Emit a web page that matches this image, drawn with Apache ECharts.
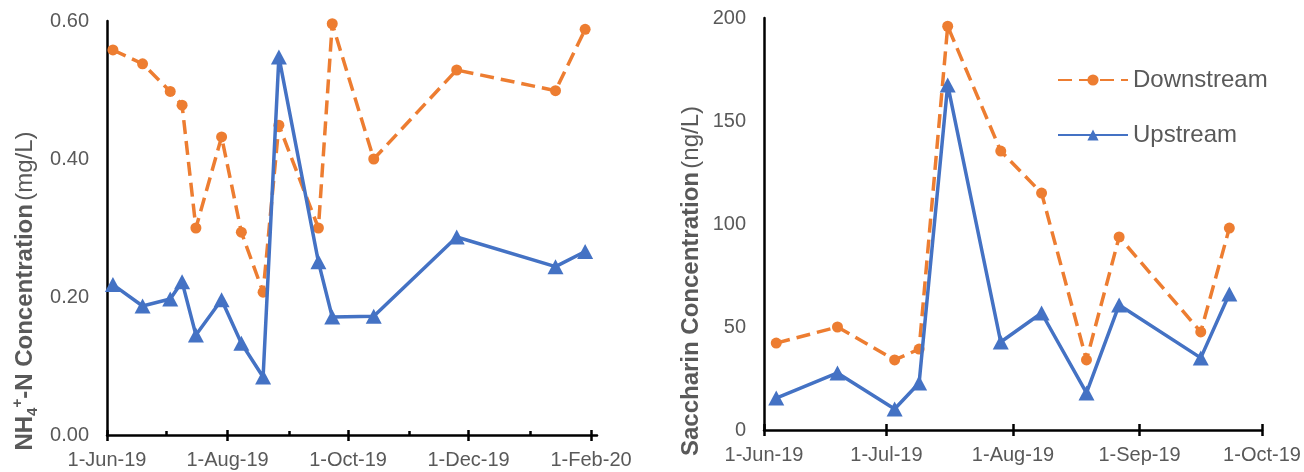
<!DOCTYPE html>
<html>
<head>
<meta charset="utf-8">
<script src="https://cdn.jsdelivr.net/npm/echarts@6/dist/echarts.min.js"></script>
<style>
html,body{margin:0;padding:0;background:#fff;}
#c{width:1304px;height:472px;}
</style>
</head>
<body>
<div id="c"></div>
<script>
// ---------- data ----------
const nh4Dates = ['2019-06-04','2019-06-19','2019-07-03','2019-07-09','2019-07-16','2019-07-29','2019-08-08','2019-08-19','2019-08-27','2019-09-16','2019-09-23','2019-10-14','2019-11-25','2020-01-14','2020-01-29'];
const nh4Down = [0.558,0.538,0.498,0.478,0.300,0.432,0.294,0.207,0.449,0.300,0.596,0.400,0.529,0.499,0.588];
const nh4Up   = [0.218,0.187,0.197,0.222,0.145,0.196,0.133,0.084,0.548,0.251,0.171,0.172,0.287,0.244,0.266];

const sacDates = ['2019-06-04','2019-06-19','2019-07-03','2019-07-09','2019-07-16','2019-07-29','2019-08-08','2019-08-19','2019-08-27','2019-09-16','2019-09-23'];
const sacDown = [42.2,50.0,34.0,39.3,196.0,135.4,115.0,34.0,93.7,47.6,98.0];
const sacUp   = [15.5,27.7,10.2,22.8,167.5,42.7,56.8,18.0,60.7,35.0,66.0];

const leftTickDates  = ['2019-06-01','2019-08-01','2019-10-01','2019-12-01','2020-02-01'];
const leftTickLabels = ['1-Jun-19','1-Aug-19','1-Oct-19','1-Dec-19','1-Feb-20'];
const leftMinorDates = ['2019-07-01','2019-09-01','2019-11-01','2020-01-01'];
const rightTickDates  = ['2019-06-01','2019-07-01','2019-08-01','2019-09-01','2019-10-01'];
const rightTickLabels = ['1-Jun-19','1-Jul-19','1-Aug-19','1-Sep-19','1-Oct-19'];
const leftRange  = ['2019-06-01','2020-02-04'];
const rightRange = ['2019-06-01','2019-10-01'];

// ---------- helpers ----------
function ts(s){const p=s.split('-').map(Number);return Date.UTC(p[0],p[1]-1,p[2]);}
function pairs(d,v){return d.map((x,i)=>[ts(x),v[i]]);}
function labelMap(dates,labels){const m={};dates.forEach((d,i)=>{m[ts(d)]=labels[i];});return v=>m[v]!==undefined?m[v]:'';}

const ORANGE='#ED7D31', BLUE='#4472C4', TXT='#595959';
const FONT='"Liberation Sans", Arial, sans-serif';
const LEFT_RECT  = {left:107,top:21,width:490,height:414};
const RIGHT_RECT = {left:764,top:18,width:498,height:412};

function mainX(grid,range,tickDates,tickLabels){
  return {type:'value',gridIndex:grid,position:'bottom',min:ts(range[0]),max:ts(range[1]),
    splitLine:{show:false},
    axisLine:{show:true,lineStyle:{color:'#000',width:2.5}},
    axisTick:{show:true,customValues:tickDates.map(ts),length:6,inside:false,lineStyle:{color:'#000',width:2.5}},
    axisLabel:{customValues:tickDates.map(ts),formatter:labelMap(tickDates,tickLabels),color:TXT,fontSize:20,fontFamily:FONT,margin:15}};
}
function overlayX(grid,range,tickDates,len){
  return {type:'value',gridIndex:grid,position:'bottom',min:ts(range[0]),max:ts(range[1]),
    splitLine:{show:false},axisLine:{show:false},axisLabel:{show:false},
    axisTick:{show:true,customValues:tickDates.map(ts),length:len,inside:true,lineStyle:{color:'#000',width:2.5}}};
}
function hiddenY(grid){
  return {type:'value',gridIndex:grid,min:0,max:1,show:false,splitLine:{show:false}};
}

const downStyle = {
  type:'line',name:'Downstream',symbol:'circle',symbolSize:11,
  lineStyle:{color:ORANGE,width:3.5,type:[14,7]},itemStyle:{color:ORANGE},z:3
};
const upStyle = {
  type:'line',name:'Upstream',symbol:'triangle',symbolSize:[16,15],
  lineStyle:{color:BLUE,width:3.5,type:'solid'},itemStyle:{color:BLUE},z:4
};

const chart = echarts.init(document.getElementById('c'),null,{renderer:'canvas'});
chart.setOption({
  animation:false,
  backgroundColor:'#fff',
  textStyle:{fontFamily:FONT},
  grid:[
    Object.assign({containLabel:false},LEFT_RECT),
    Object.assign({containLabel:false},RIGHT_RECT),
    Object.assign({containLabel:false},LEFT_RECT),
    Object.assign({containLabel:false},LEFT_RECT),
    Object.assign({containLabel:false},RIGHT_RECT)
  ],
  legend:{
    orient:'vertical',left:1057,top:68,padding:0,itemWidth:70,itemHeight:14,itemGap:31,
    data:['Downstream','Upstream'],
    textStyle:{color:TXT,fontSize:24,fontFamily:FONT,lineHeight:24}
  },
  xAxis:[
    mainX(0,leftRange,leftTickDates,leftTickLabels),
    mainX(1,rightRange,rightTickDates,rightTickLabels),
    overlayX(2,leftRange,leftTickDates,5),
    overlayX(3,leftRange,leftMinorDates,4),
    overlayX(4,rightRange,rightTickDates,6)
  ],
  yAxis:[
    {type:'value',gridIndex:0,min:0,max:0.6,interval:0.2,
      splitLine:{show:false},
      axisLine:{show:true,lineStyle:{color:'#000',width:2.5}},
      axisTick:{show:false},
      axisLabel:{formatter:v=>v.toFixed(2),color:TXT,fontSize:20,fontFamily:FONT,margin:18},
      name:'{b|NH}{sub|4}{sup|+}{b|-N Concentration} {r|(mg/L)}',
      nameLocation:'middle',nameGap:67,nameRotate:90,
      nameTextStyle:{color:TXT,padding:[0,126,0,0],rich:{
        b:{fontSize:24,fontWeight:'bold',color:TXT,fontFamily:FONT,lineHeight:30,verticalAlign:'middle'},
        sub:{fontSize:15,fontWeight:'bold',color:TXT,fontFamily:FONT,lineHeight:30,verticalAlign:'bottom'},
        sup:{fontSize:15,fontWeight:'bold',color:TXT,fontFamily:FONT,lineHeight:30,verticalAlign:'top'},
        r:{fontSize:24,color:TXT,fontFamily:FONT,lineHeight:30,verticalAlign:'middle'}
      }}
    },
    {type:'value',gridIndex:1,min:0,max:200,interval:50,
      splitLine:{show:false},
      axisLine:{show:true,lineStyle:{color:'#000',width:2.5}},
      axisTick:{show:false},
      axisLabel:{color:TXT,fontSize:20,fontFamily:FONT,margin:18},
      name:'{b|Saccharin Concentration} {r|(ng/L)}',
      nameLocation:'middle',nameGap:61,nameRotate:90,
      nameTextStyle:{color:TXT,padding:[0,114,0,0],rich:{
        b:{fontSize:24,fontWeight:'bold',color:TXT,fontFamily:FONT},
        r:{fontSize:24,color:TXT,fontFamily:FONT}
      }}
    },
    hiddenY(2),hiddenY(3),hiddenY(4)
  ],
  series:[
    Object.assign({},downStyle,{xAxisIndex:0,yAxisIndex:0,data:pairs(nh4Dates,nh4Down)}),
    Object.assign({},upStyle,{xAxisIndex:0,yAxisIndex:0,data:pairs(nh4Dates,nh4Up)}),
    Object.assign({},downStyle,{xAxisIndex:1,yAxisIndex:1,data:pairs(sacDates,sacDown)}),
    Object.assign({},upStyle,{xAxisIndex:1,yAxisIndex:1,data:pairs(sacDates,sacUp)})
  ]
});
</script>
</body>
</html>
